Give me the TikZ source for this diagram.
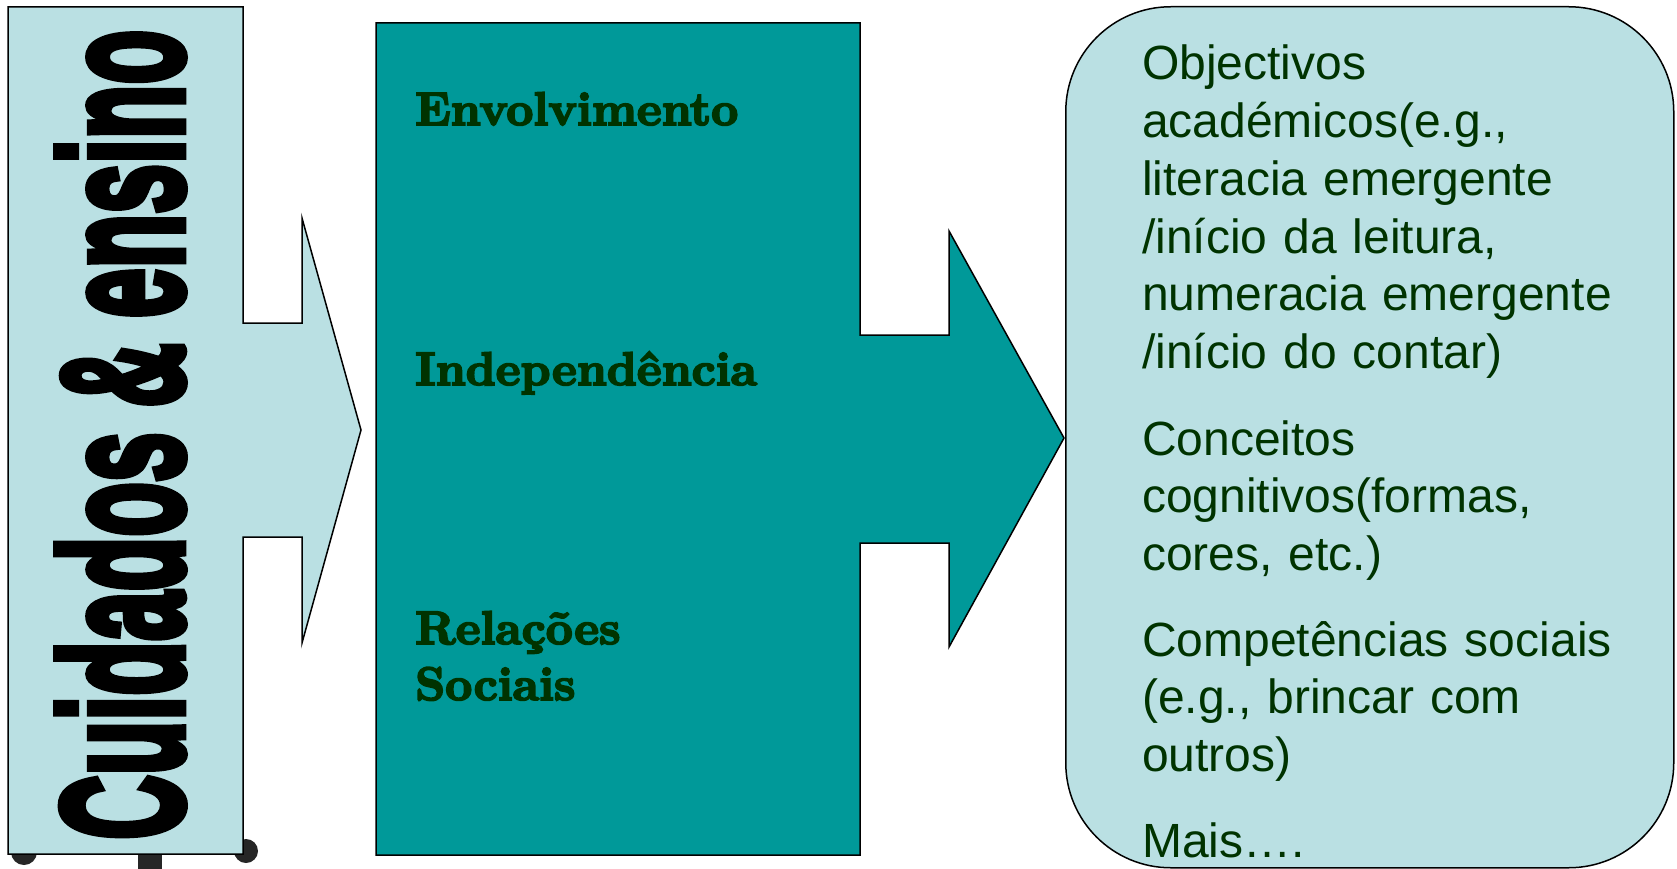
\documentclass[tikz,border=0pt]{standalone}
\usepackage{fontspec}
\usepackage{tikz}
\usetikzlibrary{calc}
\newfontfamily\arialfont{Liberation Sans}
\newfontfamily\heavyfont[FakeBold=5]{Liberation Sans Bold}
\newfontfamily\fatfont[FakeBold=4]{lmroman10-bold.otf}
\definecolor{lightcyan}{RGB}{186,224,227}
\definecolor{tealbox}{RGB}{0,153,153}
\definecolor{darkgreen}{RGB}{0,51,0}

\begin{document}
\begin{tikzpicture}[x=1pt,y=1pt]
\tikzstyle{outline} = [draw=black, line width=1.5pt, line join=miter]
\tikzstyle{pillar} = [anchor=base west, inner sep=0pt, text=darkgreen, font=\fatfont\fontsize{47}{56}\selectfont, text width=400pt, align=left]
\tikzstyle{goaltext} = [anchor=base west, inner sep=0pt, text=darkgreen, font=\arialfont\fontsize{48}{57.7}\selectfont, text width=540pt, align=left]
\useasboundingbox (0,0) rectangle (1677,-869);
% blots under the first box
\fill[black!85] (24,-852) circle (13);
\fill[black!85] (246,-851) circle (12);
\fill[black!85] (138,-852) rectangle (162,-869);
% Cuidados & ensino box with its arrow
\draw[outline, fill=lightcyan] (8,-7) -- (243,-7) -- (243,-323) -- (302,-323) -- (302,-218)
    -- (361,-430) -- (302,-643) -- (302,-537) -- (243,-537) -- (243,-854) -- (8,-854) -- cycle;
\node[rotate=90, anchor=base west, inner sep=0pt] (care) at (182,-840)
    {\scalebox{0.52}[1]{\heavyfont\fontsize{172}{172}\selectfont Cuidados \& ensino}};
% middle box with its arrow
\draw[outline, fill=tealbox] (376,-23) -- (860,-23) -- (860,-335) -- (949,-335) -- (949,-231)
    -- (1064,-438) -- (949,-647) -- (949,-543) -- (860,-543) -- (860,-855) -- (376,-855) -- cycle;
\node[pillar] (env) at (415,-125) {Envolvimento};
\node[pillar] (ind) at (415,-385) {Independência};
\node[pillar] (rel) at (415,-644) {Relações\\Sociais};
% outcomes
\node[outline, fill=lightcyan, rounded corners=105pt, minimum width=608pt, minimum height=861pt,
    anchor=north west, inner sep=0pt] (goals) at (1065,-6) {};
\node[goaltext] (acad) at (1142,-80) {Objectivos\\académicos(e.g.,\\literacia emergente\\/início da leitura,\\numeracia emergente\\/início do contar)};
\node[goaltext] (cog) at (1142,-455) {Conceitos\\cognitivos(formas,\\cores, etc.)};
\node[goaltext] (soc) at (1142,-656) {Competências sociais\\(e.g., brincar com\\outros)};
\node[goaltext] (more) at (1142,-857) {Mais….};
\end{tikzpicture}
\end{document}
